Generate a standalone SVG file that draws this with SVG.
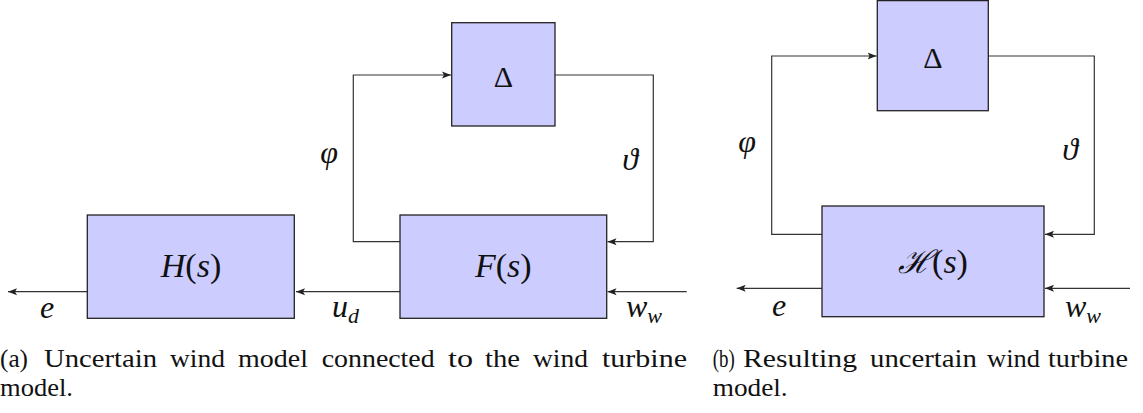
<svg xmlns="http://www.w3.org/2000/svg" width="1143" height="413" viewBox="0 0 1143 413">
<style>
.box{fill:#ccccff;stroke:#222;stroke-width:1.3}
.wire{fill:none;stroke:#333;stroke-width:1.2}
.m{font-style:italic;fill:#111}
.up{font-style:normal}
.cap{font-size:26px;fill:#111}
</style>
<defs>
<marker id="arr" markerUnits="userSpaceOnUse" markerWidth="12" markerHeight="10" refX="9" refY="4" orient="auto">
<path d="M0,0.5 L9,4 L0,7.5 L2,4 z" fill="#222"/>
</marker>
</defs>
<g id="connectors">
<path class="wire" d="M400,291.7 H296" marker-end="url(#arr)"/>
<path class="wire" d="M87.3,291.7 H8" marker-end="url(#arr)"/>
<path class="wire" d="M400,241.7 H353.3 V75 H451" marker-end="url(#arr)"/>
<path class="wire" d="M555,75 H653.3 V241.7 H607.5" marker-end="url(#arr)"/>
<path class="wire" d="M686.7,291.7 H607.5" marker-end="url(#arr)"/>
<path class="wire" d="M822,288.3 H736.7" marker-end="url(#arr)"/>
<path class="wire" d="M822,234.3 H771.7 V56 H876.6" marker-end="url(#arr)"/>
<path class="wire" d="M988.3,56 H1094.3 V234.3 H1045" marker-end="url(#arr)"/>
<path class="wire" d="M1130,288.3 H1045" marker-end="url(#arr)"/>
</g>
<g font-family="'Liberation Serif', 'Times New Roman', 'DejaVu Serif', serif">
<g id="H">
<rect class="box" x="87.3" y="215" width="207" height="103.3"/>
<text class="m" x="191" y="276.7" font-size="34" text-anchor="middle">H<tspan class="up">(</tspan>s<tspan class="up">)</tspan></text>
</g>
<g id="F">
<rect class="box" x="400" y="215" width="206.7" height="103.3"/>
<text class="m" x="503.3" y="276.7" font-size="34" text-anchor="middle">F<tspan class="up">(</tspan>s<tspan class="up">)</tspan></text>
</g>
<g id="DeltaA">
<rect class="box" x="451.7" y="22.7" width="103.3" height="103.3"/>
<text class="m up" x="503.3" y="87" font-size="30" text-anchor="middle">Δ</text>
</g>
<g id="DeltaB">
<rect class="box" x="877.3" y="0.6" width="111" height="110.1"/>
<text class="m up" x="932.8" y="68.3" font-size="30" text-anchor="middle">Δ</text>
</g>
<g id="Hcal">
<rect class="box" x="822" y="206" width="222" height="110.7"/>
<text class="m" x="933" y="273.3" font-size="34" text-anchor="middle"><tspan font-size="32">ℋ</tspan><tspan class="up">(</tspan>s<tspan class="up">)</tspan></text>
</g>
<g id="labels">
<text class="m" x="47" y="317.5" font-size="32" text-anchor="middle">e</text>
<text class="m" x="332" y="317" font-size="32">u<tspan font-size="22" dy="6">d</tspan></text>
<text class="m" x="626" y="317" font-size="32">w<tspan font-size="22" dy="6">w</tspan></text>
<text class="m" x="329" y="163" font-size="32" text-anchor="middle">φ</text>
<text class="m" x="630" y="170" font-size="32" text-anchor="middle">ϑ</text>
<text class="m" x="747" y="152" font-size="32" text-anchor="middle">φ</text>
<text class="m" x="1070" y="160" font-size="32" text-anchor="middle">ϑ</text>
<text class="m" x="779" y="316" font-size="32" text-anchor="middle">e</text>
<text class="m" x="1065" y="316.7" font-size="32">w<tspan font-size="22" dy="6">w</tspan></text>
</g>
<g id="captionA" class="cap">
<text x="0" y="367" textLength="28" lengthAdjust="spacingAndGlyphs">(a)</text>
<text x="44" y="367" textLength="113" lengthAdjust="spacingAndGlyphs">Uncertain</text>
<text x="170" y="367" textLength="55" lengthAdjust="spacingAndGlyphs">wind</text>
<text x="238" y="367" textLength="70" lengthAdjust="spacingAndGlyphs">model</text>
<text x="321.7" y="367" textLength="113" lengthAdjust="spacingAndGlyphs">connected</text>
<text x="448" y="367" textLength="25" lengthAdjust="spacingAndGlyphs">to</text>
<text x="485" y="367" textLength="35" lengthAdjust="spacingAndGlyphs">the</text>
<text x="533" y="367" textLength="55" lengthAdjust="spacingAndGlyphs">wind</text>
<text x="602" y="367" textLength="85" lengthAdjust="spacingAndGlyphs">turbine</text>
<text x="0" y="396" textLength="73" lengthAdjust="spacingAndGlyphs">model.</text>
</g>
<g id="captionB" class="cap">
<text x="712.7" y="367" textLength="22" lengthAdjust="spacingAndGlyphs">(b)</text>
<text x="743" y="367" textLength="114" lengthAdjust="spacingAndGlyphs">Resulting</text>
<text x="870" y="367" textLength="107" lengthAdjust="spacingAndGlyphs">uncertain</text>
<text x="987" y="367" textLength="53" lengthAdjust="spacingAndGlyphs">wind</text>
<text x="1048" y="367" textLength="80" lengthAdjust="spacingAndGlyphs">turbine</text>
<text x="712.7" y="396" textLength="75" lengthAdjust="spacingAndGlyphs">model.</text>
</g>
</g>
</svg>
